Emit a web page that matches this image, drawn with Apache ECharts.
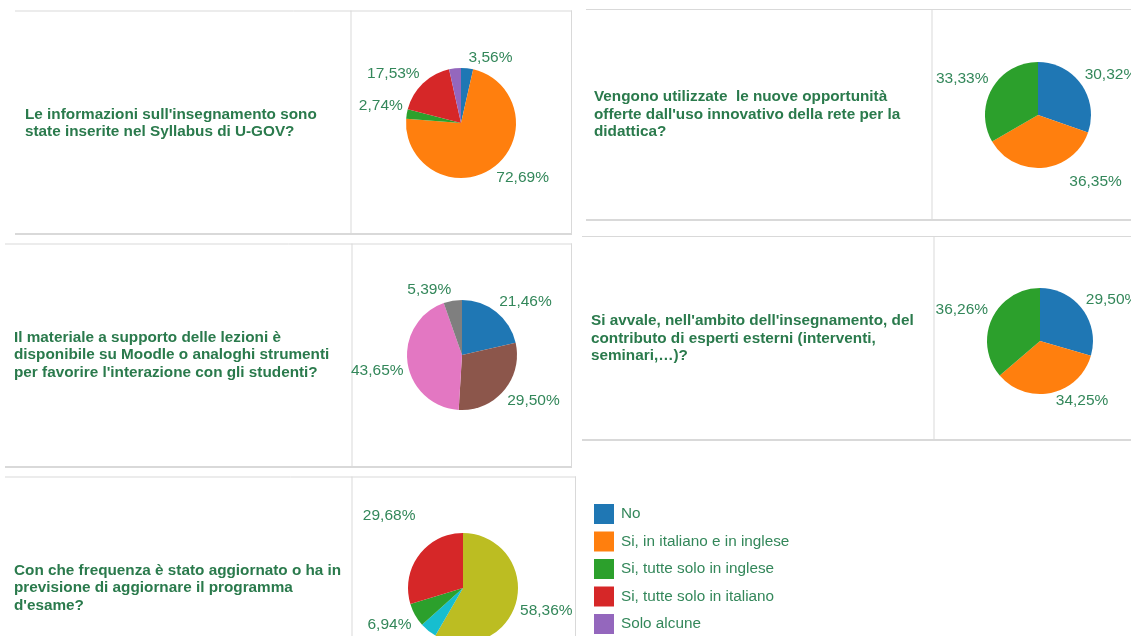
<!DOCTYPE html>
<html><head><meta charset="utf-8">
<script src="https://cdn.jsdelivr.net/npm/echarts@6/dist/echarts.min.js"></script>
<style>html,body{margin:0;padding:0;background:#fff}#c{width:1131px;height:636px}</style>
</head><body><div id="c"></div>
<script>
// ---- data ----
const categories = ['No', 'Si, in italiano e in inglese', 'Si, tutte solo in inglese', 'Si, tutte solo in italiano', 'Solo alcune',
  'Risposta 6', 'Risposta 7', 'Risposta 8', 'Risposta 9', 'Risposta 10', 'Risposta 11', 'Risposta 12', 'Risposta 13', 'Risposta 14'];
const legendItems = ['No', 'Si, in italiano e in inglese', 'Si, tutte solo in inglese', 'Si, tutte solo in italiano', 'Solo alcune'];

const q1Text = "Le informazioni sull'insegnamento sono\nstate inserite nel Syllabus di U-GOV?";
const q1Cats = [0, 1, 2, 3, 4];
const q1Values = [3.56, 72.69, 2.74, 17.53, 3.48];
const q1Labels = [true, true, true, true, false];

const q2Text = "Vengono utilizzate  le nuove opportunità\nofferte dall'uso innovativo della rete per la\ndidattica?";
const q2Cats = [0, 1, 2];
const q2Values = [30.32, 36.35, 33.33];
const q2Labels = [true, true, true];

const q3Text = "Il materiale a supporto delle lezioni è\ndisponibile su Moodle o analoghi strumenti\nper favorire l'interazione con gli studenti?";
const q3Cats = [0, 5, 6, 7];
const q3Values = [21.46, 29.50, 43.65, 5.39];
const q3Labels = [true, true, true, true];

const q4Text = "Si avvale, nell'ambito dell'insegnamento, del\ncontributo di esperti esterni (interventi,\nseminari,…)?";
const q4Cats = [0, 1, 2];
const q4Values = [29.50, 34.25, 36.26];
const q4Labels = [true, true, true];

const q5Text = "Con che frequenza è stato aggiornato o ha in\nprevisione di aggiornare il programma\nd'esame?";
const q5Cats = [8, 9, 12, 13];
const q5Values = [58.36, 5.02, 6.94, 29.68];
const q5Labels = [true, false, true, true];

// ---- styling / layout ----
const palette = ['#1f77b4', '#ff7f0e', '#2ca02c', '#d62728', '#9467bd', '#8c564b', '#e377c2', '#7f7f7f', '#bcbd22', '#17becf'];
const FONT = 'Liberation Sans, Arial, Helvetica, sans-serif';
const TITLE_COLOR = '#2a7a4c';
const LABEL_COLOR = '#33875a';
const BORDER = '#d9d9d9';
const pieCenters = [[461, 123], [1038, 115], [462, 355], [1040, 341], [463, 588]];
const pieRadii = [55, 53, 55, 53, 55];
// extra label nudges (seriesIndex-dataIndex)
const labelNudge = { '1-1': [25, 3], '4-3': [0, -30], '3-1': [3, -3] };

function pie(k, cats, values, labels) {
  return {
    type: 'pie', center: pieCenters[k], radius: pieRadii[k], startAngle: 90, clockwise: true,
    avoidLabelOverlap: true, silent: true,
    itemStyle: { borderWidth: 0 },
    label: {
      show: true, position: 'outside', fontFamily: FONT, fontSize: 15.5, color: LABEL_COLOR,
      overflow: 'none', distanceToLabelLine: 1, bleedMargin: 0,
      formatter: p => p.value.toFixed(2).replace('.', ',') + '%'
    },
    labelLine: { show: false, length: 3, length2: 0 },
    labelLayout: function (p) {
      const c = pieCenters[p.seriesIndex];
      const r = p.labelRect;
      const mid = r.y + r.height / 2;
      const n = labelNudge[p.seriesIndex + '-' + p.dataIndex] || [0, 0];
      return { dx: n[0], dy: (mid < c[1] ? -r.height / 2 : r.height / 2) + n[1] };
    },
    data: values.map((v, i) => ({
      name: categories[cats[i]], value: v,
      itemStyle: { color: palette[cats[i] % 10] },
      label: { show: labels[i] }
    }))
  };
}

function panel(x0, x1, top, bottom, divider, rightBorder) {
  const els = [];
  const line = (a, b, c, d, w) => ({ type: 'line', shape: { x1: a, y1: b, x2: c, y2: d }, style: { stroke: BORDER, lineWidth: w }, silent: true });
  els.push(line(x0, top + 0.5, x1, top + 0.5, 1));
  els.push(line(x0, bottom, x1, bottom, 2));
  els.push(line(divider + 0.5, top, divider + 0.5, bottom, 1));
  if (rightBorder) els.push(line(x1 - 0.5, top, x1 - 0.5, bottom, 1));
  return els;
}
function qtext(t, x, y) {
  return { type: 'text', x: x, y: y, silent: true,
    style: { text: t, font: 'bold 15.3px ' + FONT, fill: TITLE_COLOR, lineHeight: 17.5, textVerticalAlign: 'top' } };
}

const graphics = [].concat(
  panel(15, 572, 10.5, 234, 350.5, true),
  panel(586, 1140, 9, 220, 931.5, true),
  panel(5, 572, 243.5, 467, 351.5, true),
  panel(582, 1140, 236, 440, 933.5, true),
  panel(5, 576, 476.5, 700, 351.5, true),
  [qtext(q1Text, 25, 106), qtext(q2Text, 594, 88.5), qtext(q3Text, 14, 329), qtext(q4Text, 591, 312.5), qtext(q5Text, 14, 562)]
);

const chart = echarts.init(document.getElementById('c'), null, { renderer: 'canvas' });
chart.setOption({
  animation: false,
  backgroundColor: '#fff',
  legend: {
    data: legendItems, orient: 'vertical', left: 594, top: 504, height: 300, padding: 0,
    itemWidth: 20, itemHeight: 20, itemGap: 7.5, icon: 'rect', selectedMode: false,
    textStyle: { fontFamily: FONT, fontSize: 15.3, color: LABEL_COLOR, padding: [0, 0, 0, 2] }
  },
  graphic: graphics,
  series: [
    pie(0, q1Cats, q1Values, q1Labels),
    pie(1, q2Cats, q2Values, q2Labels),
    pie(2, q3Cats, q3Values, q3Labels),
    pie(3, q4Cats, q4Values, q4Labels),
    pie(4, q5Cats, q5Values, q5Labels)
  ]
});
</script></body></html>
